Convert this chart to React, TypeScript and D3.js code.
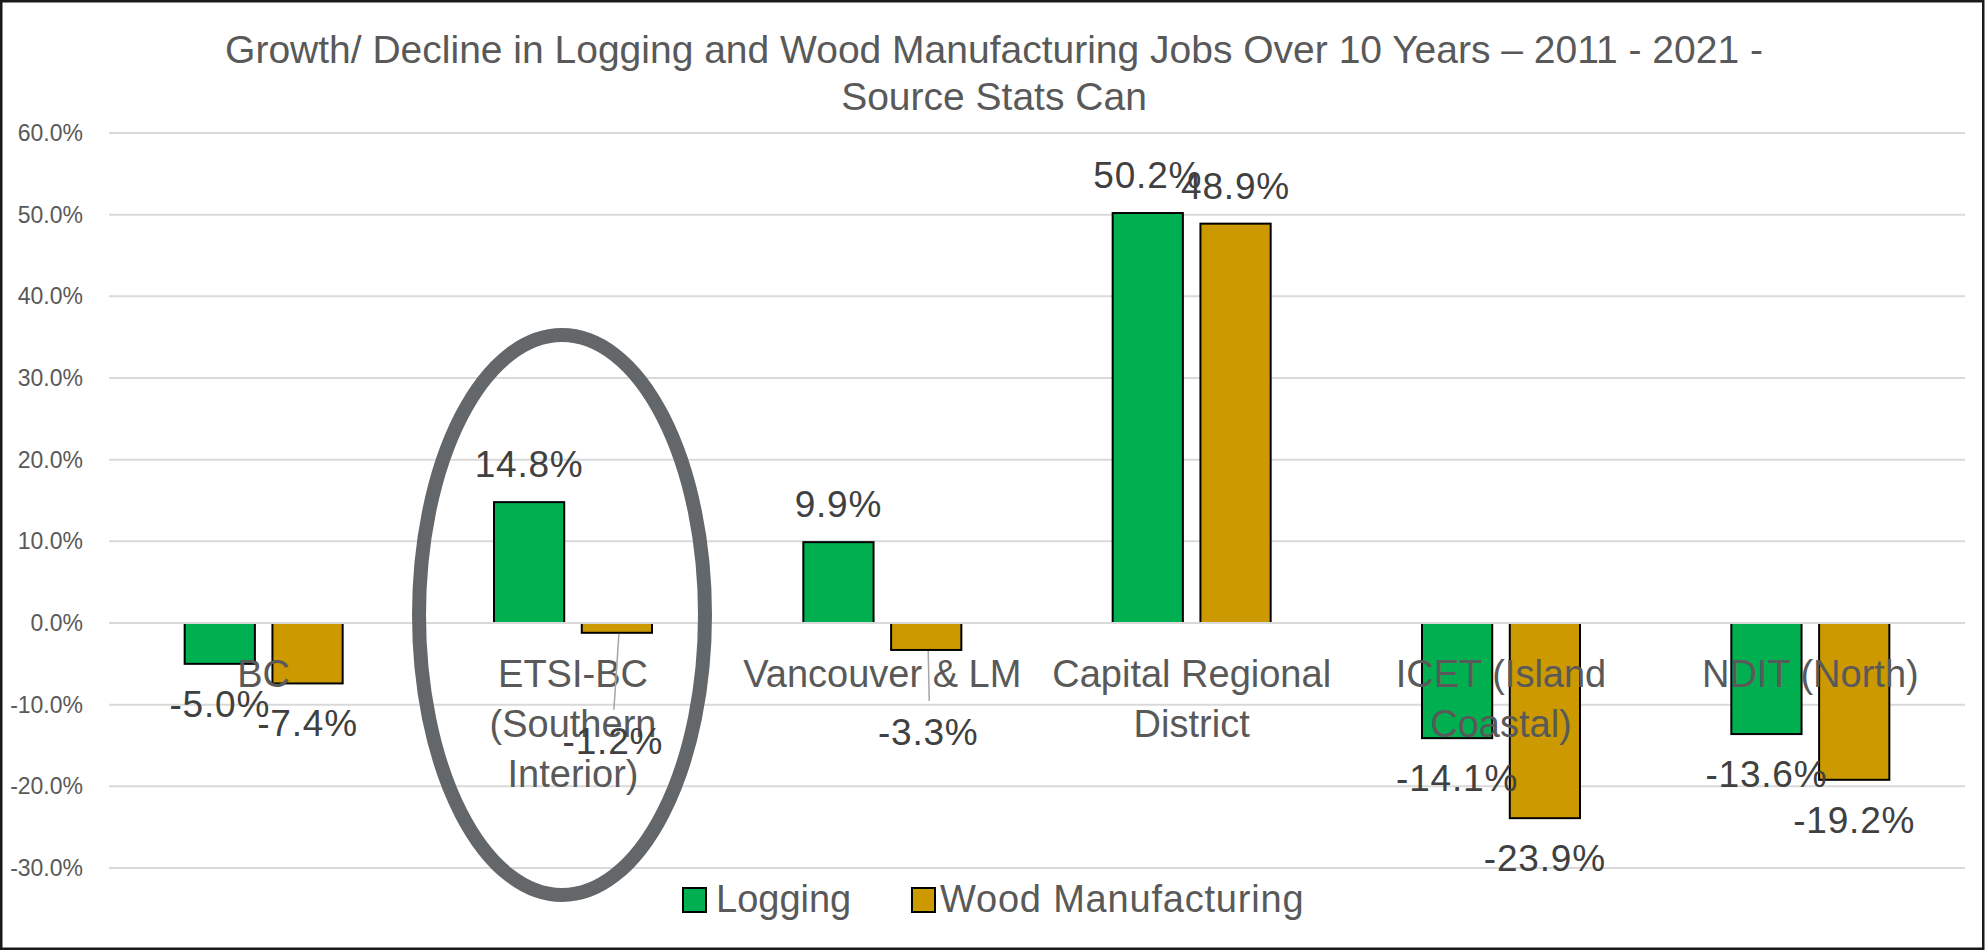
import React from "react";
import * as d3 from "d3";

const categories = ["BC", "ETSI-BC (Southern Interior)", "Vancouver & LM", "Capital Regional District", "ICET (Island Coastal)", "NDIT (North)"];
const categoryLines = [["BC"], ["ETSI-BC", "(Southern", "Interior)"], ["Vancouver & LM"], ["Capital Regional", "District"], ["ICET (Island", "Coastal)"], ["NDIT (North)"]];
const seriesNames = ["Logging", "Wood Manufacturing"];
const logging = [-5.0, 14.8, 9.9, 50.2, -14.1, -13.6];
const woodManufacturing = [-7.4, -1.2, -3.3, 48.9, -23.9, -19.2];
const yTicks = [-30, -20, -10, 0, 10, 20, 30, 40, 50, 60];
const titleLines = ["Growth/ Decline in Logging and Wood Manufacturing Jobs Over 10 Years \u2013 2011 - 2021 -", "Source Stats Can"];

const W = 1986;
const H = 951;
const FONT = "'Liberation Sans', Arial, sans-serif";
const colors = ["#00b050", "#cc9900"];

// manual label placement (layout only) for labels Excel moved, with leader lines
const labelMoves: Record<string, { dx: number; dy: number }> = {
  "1|1": { dx: -4, dy: 68 },
  "2|1": { dx: 2, dy: 42 },
};

export default function App() {
  const x0 = d3.scaleBand<string>().domain(categories).range([109, 1965]).paddingInner(0).paddingOuter(0);
  const x1 = d3.scaleBand<string>().domain(seriesNames).range([-79, 79]).paddingInner(0.2).paddingOuter(0);
  const y = d3.scaleLinear().domain([-30, 60]).range([868, 133]);
  const series = [logging, woodManufacturing];

  const bars: any[] = [];
  const labels: any[] = [];
  const leaders: any[] = [];
  categories.forEach((c, ci) => {
    const cx = (x0(c) as number) + x0.bandwidth() / 2;
    seriesNames.forEach((s, si) => {
      const v = series[si][ci];
      const bx = cx + (x1(s) as number);
      const bw = x1.bandwidth();
      const yTop = y(Math.max(0, v));
      const yBot = y(Math.min(0, v));
      bars.push(
        <rect key={`b${ci}-${si}`} x={bx} y={yTop} width={bw} height={yBot - yTop} fill={colors[si]} stroke="#000" strokeWidth={2} />
      );
      const mid = bx + bw / 2;
      let ly = v >= 0 ? y(v) - 25 : y(v) + 53;
      let lx = mid;
      const mv = labelMoves[`${ci}|${si}`];
      if (mv) {
        lx += mv.dx;
        ly += mv.dy;
        leaders.push(
          <line key={`l${ci}-${si}`} x1={mid + 2} y1={y(v) + 1} x2={lx + 1} y2={ly - 44} stroke="#a6a6a6" strokeWidth={1.5} />
        );
      }
      labels.push(
        <text key={`t${ci}-${si}`} x={lx} y={ly} textAnchor="middle" fontSize={37} letterSpacing={0.8} fill="#404040" fontFamily={FONT}>
          {v.toFixed(1) + "%"}
        </text>
      );
    });
  });

  return (
    <svg width={W} height={H} style={{ position: "absolute", left: 0, top: 0, background: "#fff" }}>
      <rect x={0} y={0} width={W} height={H} fill="#fff" />
      {titleLines.map((t, i) => (
        <text key={t} x={994} y={63 + i * 47} textAnchor="middle" fontSize={39} fill="#595959" fontFamily={FONT}>
          {t}
        </text>
      ))}
      {yTicks.map((t) => (
        <g key={t}>
          <line x1={109} x2={1965} y1={y(t)} y2={y(t)} stroke="#d9d9d9" strokeWidth={2} />
          <text x={83} y={y(t) + 8} textAnchor="end" fontSize={23} fill="#595959" fontFamily={FONT}>
            {t.toFixed(1) + "%"}
          </text>
        </g>
      ))}
      {bars}
      <line x1={109} x2={1965} y1={y(0)} y2={y(0)} stroke="#d9d9d9" strokeWidth={2} />
      {categoryLines.map((lines, ci) => {
        const cx = (x0(categories[ci]) as number) + x0.bandwidth() / 2;
        return (
          <text key={`c${ci}`} x={cx} y={687} textAnchor="middle" fontSize={38} fill="#595959" fontFamily={FONT}>
            {lines.map((ln, li) => (
              <tspan key={li} x={cx} dy={li === 0 ? 0 : 50}>
                {ln}
              </tspan>
            ))}
          </text>
        );
      })}
      {leaders}
      {labels}
      <ellipse cx={562} cy={615} rx={143} ry={280} fill="none" stroke="#63676a" strokeWidth={14} />
      <g>
        <rect x={683} y={888} width={23} height={24} fill={colors[0]} stroke="#000" strokeWidth={2} />
        <text x={716} y={912} fontSize={38} fill="#595959" fontFamily={FONT}>{seriesNames[0]}</text>
        <rect x={912} y={888} width={23} height={24} fill={colors[1]} stroke="#000" strokeWidth={2} />
        <text x={940} y={912} fontSize={38} letterSpacing={0.8} fill="#595959" fontFamily={FONT}>{seriesNames[1]}</text>
      </g>
      <rect x={1.25} y={1.25} width={1982} height={947.5} fill="none" stroke="#1a1a1a" strokeWidth={2.5} />
    </svg>
  );
}
